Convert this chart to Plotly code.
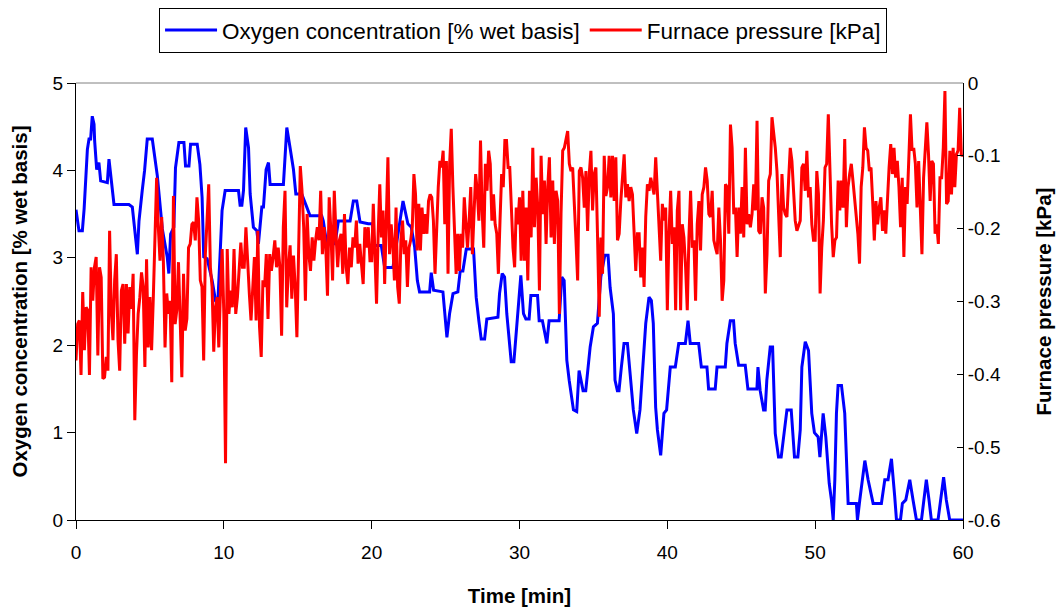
import numpy as np
import plotly.graph_objects as go

# ---------------- data ----------------
# Oxygen concentration [% wet basis] (time in minutes)
o2_time = [0.00, 0.20, 0.43, 0.55, 0.77, 0.88, 0.99, 1.10, 1.22, 1.26, 1.40, 1.55, 1.67, 2.12, 2.23, 2.39, 2.57, 3.58, 3.81,
           4.15, 4.26, 4.48, 4.64, 4.82, 5.16, 5.50, 5.84, 6.17, 6.28, 6.40, 6.62, 6.73, 6.96, 7.30, 7.41, 7.64, 7.75, 8.20,
           8.38, 8.53, 8.64, 8.87, 9.21, 9.44, 9.60, 9.77, 9.88, 10.09, 10.99, 11.10, 11.22, 11.33, 11.48, 11.67, 11.78,
           12.00, 12.23, 12.34, 12.57, 12.68, 12.86, 13.02, 13.13, 14.03, 14.26, 14.48, 14.71, 14.87, 15.27, 15.61, 15.83,
           16.62, 16.73, 16.96, 17.52, 17.75, 18.54, 18.76, 18.99, 19.21, 19.77, 20.05, 20.20, 20.65, 20.88, 21.44, 22.12,
           22.45, 22.68, 22.91, 23.09, 23.24, 23.92, 24.03, 24.19, 24.82, 24.93, 25.09, 25.27, 25.50, 25.83, 25.99, 26.17,
           26.40, 26.89, 27.07, 27.25, 27.41, 27.64, 27.79, 28.54, 28.65, 28.83, 28.99, 29.14, 29.28, 29.44, 29.62, 29.82,
           30.09, 30.27, 30.43, 30.65, 30.77, 31.22, 31.33, 31.55, 31.85, 32.00, 32.68, 32.86, 33.02, 33.20, 33.36, 33.65,
           33.87, 34.03, 34.30, 34.48, 34.64, 34.78, 35.00, 35.27, 35.50, 35.77, 35.99, 36.13, 36.35, 36.46, 36.62, 36.73,
           36.89, 37.07, 37.30, 37.52, 37.70, 37.93, 38.15, 38.31, 38.54, 38.76, 38.92, 39.05, 39.21, 39.33, 39.55, 39.77,
           39.95, 40.20, 40.54, 40.77, 41.22, 41.40, 41.55, 42.12, 42.30, 42.68, 42.79, 43.24, 43.36, 43.92, 44.03, 44.26,
           44.48, 44.59, 44.82, 45.27, 45.45, 46.06, 46.13, 46.28, 46.51, 46.62, 46.73, 46.96, 47.12, 47.30, 47.52, 47.70,
           47.86, 48.09, 48.38, 48.60, 48.83, 48.99, 49.10, 49.33, 49.55, 49.77, 49.95, 50.20, 50.32, 50.54, 50.72, 50.95,
           51.10, 51.22, 51.33, 51.44, 51.55, 51.78, 52.00, 52.23, 52.79, 52.86, 53.02, 53.36, 53.58, 53.92, 54.48, 54.71,
           54.93, 55.16, 55.38, 55.50, 55.77, 55.90, 56.13, 56.40, 56.62, 56.85, 57.19, 57.52, 57.70, 57.86, 58.31, 58.69,
           58.87, 59.10, 60.00]
o2_pct = [3.55, 3.31, 3.31, 3.56, 4.24, 4.36, 4.36, 4.62, 4.53, 4.34, 4.01, 4.09, 3.88, 3.86, 4.13, 3.88, 3.61, 3.61, 3.58,
          3.04, 3.42, 3.77, 4.00, 4.36, 4.36, 3.94, 3.33, 3.01, 2.82, 3.27, 3.35, 4.03, 4.32, 4.32, 4.05, 4.05, 4.30, 4.30,
          4.07, 3.69, 3.01, 2.99, 2.74, 2.51, 2.51, 3.12, 3.54, 3.77, 3.77, 3.60, 3.60, 3.77, 4.49, 4.26, 3.73,
          3.35, 3.31, 3.16, 3.58, 3.58, 4.01, 4.09, 3.84, 3.84, 4.49, 4.26, 4.01, 3.73, 3.73, 3.58, 3.48,
          3.48, 3.42, 3.16, 3.16, 3.42, 3.42, 3.65, 3.65, 3.41, 3.39, 3.39, 3.14, 3.14, 2.89, 2.89, 3.65,
          3.39, 3.35, 3.12, 2.74, 2.61, 2.61, 2.83, 2.63, 2.61, 2.36, 2.09, 2.36, 2.59, 2.61, 2.85, 2.85,
          3.10, 3.10, 2.55, 2.28, 2.07, 2.07, 2.30, 2.32, 2.59, 2.82, 2.78, 2.36, 2.13, 1.81, 1.81, 2.28,
          2.80, 2.36, 2.30, 2.30, 2.57, 2.57, 2.28, 2.28, 2.02, 2.28, 2.28, 2.78, 2.74, 1.83, 1.60, 1.26,
          1.24, 1.71, 1.48, 1.48, 1.71, 1.98, 2.21, 2.25, 2.78, 3.03, 3.03, 2.66, 2.36, 1.60, 1.48, 1.48,
          1.75, 2.02, 2.02, 1.60, 1.26, 0.99, 1.26, 1.67, 2.25, 2.55, 2.51, 2.25, 1.29, 1.03, 0.74, 1.22,
          1.26, 1.75, 1.75, 2.02, 2.02, 2.28, 2.02, 2.02, 1.75, 1.75, 1.50, 1.50, 1.75, 1.75, 2.02, 2.28,
          2.28, 2.02, 1.77, 1.77, 1.50, 1.50, 1.75, 1.48, 1.26, 1.26, 1.60, 1.98, 1.98, 0.99, 0.72, 0.72,
          0.95, 1.26, 1.26, 0.72, 0.72, 1.03, 1.75, 2.04, 1.94, 1.22, 1.00, 0.95, 0.72, 1.22, 0.95, 0.42,
          0.23, 0.00, 0.46, 1.22, 1.54, 1.54, 1.22, 0.19, 0.19, 0.00, 0.23, 0.68, 0.46, 0.19, 0.19, 0.46,
          0.46, 0.70, 0.27, 0.00, 0.00, 0.19, 0.23, 0.46, 0.23, 0.00, 0.00, 0.46, 0.23, 0.00, 0.00, 0.49,
          0.23, 0.00, 0.00]

# Furnace pressure [kPa], logged samples, one list per 10-minute block
pressure_00_10 = [-0.381, -0.331, -0.326, -0.401, -0.287, -0.367, -0.308, -0.312, -0.401, -0.253, -0.299, -0.253, -0.239,
                  -0.374, -0.253, -0.267, -0.406, -0.404, -0.376, -0.395, -0.203, -0.312, -0.353, -0.271, -0.235, -0.353,
                  -0.395, -0.285, -0.276, -0.358, -0.276, -0.344, -0.280, -0.310, -0.262, -0.463, -0.372, -0.317, -0.294,
                  -0.260, -0.280, -0.390, -0.242, -0.363, -0.294, -0.367, -0.296, -0.216, -0.130, -0.198, -0.244, -0.184,
                  -0.244, -0.363, -0.289, -0.317, -0.299, -0.411, -0.155, -0.331, -0.312, -0.246, -0.317, -0.404, -0.262,
                  -0.340, -0.324, -0.226, -0.221, -0.194, -0.191, -0.216, -0.157, -0.189, -0.271, -0.280, -0.381, -0.235,
                  -0.189, -0.139, -0.253, -0.280, -0.369, -0.308, -0.294, -0.363, -0.285, -0.228]
pressure_10_20 = [-0.317, -0.522, -0.228, -0.317, -0.285, -0.308, -0.228, -0.317, -0.294, -0.262, -0.219, -0.253, -0.253,
                  -0.198, -0.253, -0.289, -0.326, -0.271, -0.239, -0.326, -0.203, -0.335, -0.376, -0.271, -0.280, -0.235,
                  -0.324, -0.235, -0.258, -0.239, -0.216, -0.253, -0.226, -0.253, -0.347, -0.198, -0.148, -0.308, -0.253,
                  -0.223, -0.296, -0.237, -0.280, -0.349, -0.203, -0.114, -0.148, -0.198, -0.299, -0.180, -0.235, -0.258,
                  -0.212, -0.244, -0.216, -0.198, -0.216, -0.148, -0.235, -0.198, -0.226, -0.292, -0.157, -0.203, -0.271,
                  -0.148, -0.207, -0.253, -0.216, -0.207, -0.262, -0.180, -0.253, -0.276, -0.226, -0.253, -0.212, -0.226,
                  -0.189, -0.248, -0.221, -0.244, -0.276, -0.198, -0.226, -0.198, -0.244]
pressure_20_30 = [-0.244, -0.166, -0.235, -0.303, -0.207, -0.139, -0.212, -0.175, -0.276, -0.180, -0.102, -0.235, -0.194,
                  -0.221, -0.271, -0.171, -0.280, -0.303, -0.216, -0.189, -0.235, -0.216, -0.280, -0.226, -0.216, -0.198,
                  -0.125, -0.153, -0.230, -0.166, -0.230, -0.171, -0.207, -0.180, -0.207, -0.162, -0.153, -0.157, -0.189,
                  -0.262, -0.189, -0.143, -0.107, -0.116, -0.093, -0.194, -0.107, -0.262, -0.111, -0.063, -0.143, -0.198,
                  -0.262, -0.207, -0.258, -0.207, -0.226, -0.157, -0.194, -0.226, -0.189, -0.143, -0.235, -0.189, -0.125,
                  -0.148, -0.189, -0.079, -0.175, -0.226, -0.111, -0.148, -0.093, -0.111, -0.189, -0.153, -0.194, -0.207,
                  -0.262, -0.189, -0.125, -0.143, -0.079, -0.079, -0.116, -0.116, -0.171, -0.226, -0.253, -0.171, -0.194]
pressure_30_40 = [-0.157, -0.244, -0.148, -0.244, -0.171, -0.271, -0.148, -0.212, -0.089, -0.198, -0.130, -0.171, -0.285,
                  -0.100, -0.180, -0.134, -0.221, -0.143, -0.102, -0.212, -0.134, -0.221, -0.148, -0.162, -0.317, -0.180,
                  -0.093, -0.089, -0.079, -0.066, -0.111, -0.121, -0.116, -0.180, -0.216, -0.271, -0.121, -0.116, -0.130,
                  -0.171, -0.121, -0.203, -0.125, -0.093, -0.175, -0.125, -0.116, -0.212, -0.321, -0.212, -0.262, -0.100,
                  -0.155, -0.143, -0.100, -0.157, -0.100, -0.162, -0.102, -0.216, -0.207, -0.162, -0.134, -0.098, -0.157,
                  -0.139, -0.162, -0.143, -0.153, -0.203, -0.258, -0.207, -0.207, -0.267, -0.226, -0.280, -0.184, -0.139,
                  -0.148, -0.130, -0.143, -0.153, -0.102, -0.157, -0.198, -0.244, -0.166, -0.189, -0.171]
pressure_40_50 = [-0.312, -0.207, -0.148, -0.221, -0.198, -0.312, -0.175, -0.148, -0.312, -0.194, -0.212, -0.253, -0.312,
                  -0.212, -0.148, -0.226, -0.216, -0.299, -0.194, -0.162, -0.230, -0.153, -0.143, -0.116, -0.134, -0.180,
                  -0.184, -0.148, -0.216, -0.226, -0.235, -0.171, -0.216, -0.299, -0.271, -0.139, -0.143, -0.207, -0.057,
                  -0.089, -0.180, -0.171, -0.239, -0.171, -0.207, -0.143, -0.212, -0.089, -0.194, -0.180, -0.198, -0.180,
                  -0.139, -0.175, -0.052, -0.203, -0.207, -0.157, -0.171, -0.289, -0.235, -0.134, -0.125, -0.047, -0.066,
                  -0.089, -0.121, -0.180, -0.239, -0.125, -0.171, -0.180, -0.184, -0.134, -0.089, -0.107, -0.143, -0.189,
                  -0.203, -0.194, -0.189, -0.116, -0.111, -0.148, -0.093, -0.157, -0.143, -0.194, -0.216]
pressure_50_60 = [-0.216, -0.121, -0.153, -0.289, -0.226, -0.189, -0.116, -0.111, -0.043, -0.130, -0.194, -0.239, -0.216,
                  -0.212, -0.134, -0.175, -0.134, -0.171, -0.077, -0.198, -0.143, -0.125, -0.111, -0.134, -0.162, -0.189,
                  -0.207, -0.248, -0.143, -0.116, -0.061, -0.089, -0.093, -0.121, -0.116, -0.162, -0.216, -0.162, -0.194,
                  -0.171, -0.157, -0.203, -0.175, -0.207, -0.153, -0.116, -0.084, -0.125, -0.089, -0.130, -0.107, -0.143,
                  -0.198, -0.130, -0.239, -0.143, -0.166, -0.111, -0.043, -0.093, -0.089, -0.111, -0.171, -0.107, -0.166,
                  -0.235, -0.130, -0.089, -0.054, -0.098, -0.162, -0.107, -0.111, -0.207, -0.194, -0.221, -0.130, -0.130,
                  -0.089, -0.011, -0.166, -0.162, -0.093, -0.153, -0.089, -0.143, -0.098, -0.093, -0.034, -0.100, -0.098]
pressure_blocks = [pressure_00_10, pressure_10_20, pressure_20_30, pressure_30_40, pressure_40_50, pressure_50_60]
block_start_min = [0, 10, 20, 30, 40, 50]
block_len_min = 10

x_ticks = [0, 10, 20, 30, 40, 50, 60]
y_ticks = [0, 1, 2, 3, 4, 5]
y2_ticks = [0, -0.1, -0.2, -0.3, -0.4, -0.5, -0.6]
y2_tick_labels = ["0", "-0.1", "-0.2", "-0.3", "-0.4", "-0.5", "-0.6"]

# sample times of the logged pressure (evenly spaced within each block)
p_time, p_val = [], []
for i, (start, block) in enumerate(zip(block_start_min, pressure_blocks)):
    last = i == len(pressure_blocks) - 1
    t = np.linspace(start, start + block_len_min, len(block), endpoint=last)
    p_time.extend(t.tolist())
    p_val.extend(block)

FONT = "Liberation Sans, Arial, sans-serif"
TITLE_SIZE = 20.5
TICK_SIZE = 19

fig = go.Figure()
fig.add_trace(go.Scatter(x=o2_time, y=o2_pct, mode="lines", name="Oxygen concentration [% wet basis]",
                         line=dict(color="#0000FF", width=3), yaxis="y"))
fig.add_trace(go.Scatter(x=p_time, y=p_val, mode="lines", name="Furnace pressure [kPa]",
                         line=dict(color="#FF0000", width=3), yaxis="y2"))

fig.update_layout(
    width=1058, height=607,
    margin=dict(l=76, r=95, t=83, b=87, autoexpand=False),
    paper_bgcolor="white", plot_bgcolor="white",
    font=dict(family=FONT, color="black", size=TICK_SIZE),
    showlegend=True,
    legend=dict(orientation="h", x=0.504, xanchor="center", y=1.172, yanchor="top",
                bordercolor="black", borderwidth=1, font=dict(size=22.5, family=FONT),
                itemwidth=52, tracegroupgap=0, bgcolor="white"),
    xaxis=dict(range=[0, 60], tickvals=x_ticks, ticks="outside", ticklen=8, tickcolor="black",
               showline=True, linecolor="black", linewidth=1, showgrid=False, zeroline=False,
               automargin=False, ticklabelstandoff=7,
               title=dict(text="<b>Time [min]</b>", font=dict(size=TITLE_SIZE, family=FONT), standoff=28),
               tickfont=dict(size=TICK_SIZE)),
    yaxis=dict(range=[0, 5], tickvals=y_ticks, ticks="outside", ticklen=8, tickcolor="black",
               showline=True, linecolor="black", linewidth=1, showgrid=False, zeroline=False,
               automargin=False,
               title=dict(text="<b>Oxygen concentration [% wet basis]</b>",
                          font=dict(size=TITLE_SIZE, family=FONT), standoff=19),
               tickfont=dict(size=TICK_SIZE)),
    yaxis2=dict(range=[-0.6, 0], overlaying="y", side="right", tickvals=y2_ticks, ticktext=y2_tick_labels,
                ticks="inside", ticklen=6, tickcolor="black",
                showline=True, linecolor="black", linewidth=1, showgrid=False, zeroline=False,
                automargin=False,
                title=dict(text="<b>Furnace pressure [kPa]</b>", font=dict(size=TITLE_SIZE, family=FONT),
                           standoff=36),
                tickfont=dict(size=TICK_SIZE)),
    shapes=[dict(type="line", xref="paper", yref="paper", x0=0, x1=1, y0=1, y1=1,
                 line=dict(color="#808080", width=1), layer="below")],
)

# let the figure fill the 1058x607 window exactly (no default page margin / scrollbars)
fig.write_html("out.html", config={"displayModeBar": False},
               post_script="document.body.style.margin='0';document.body.style.overflow='hidden';")
